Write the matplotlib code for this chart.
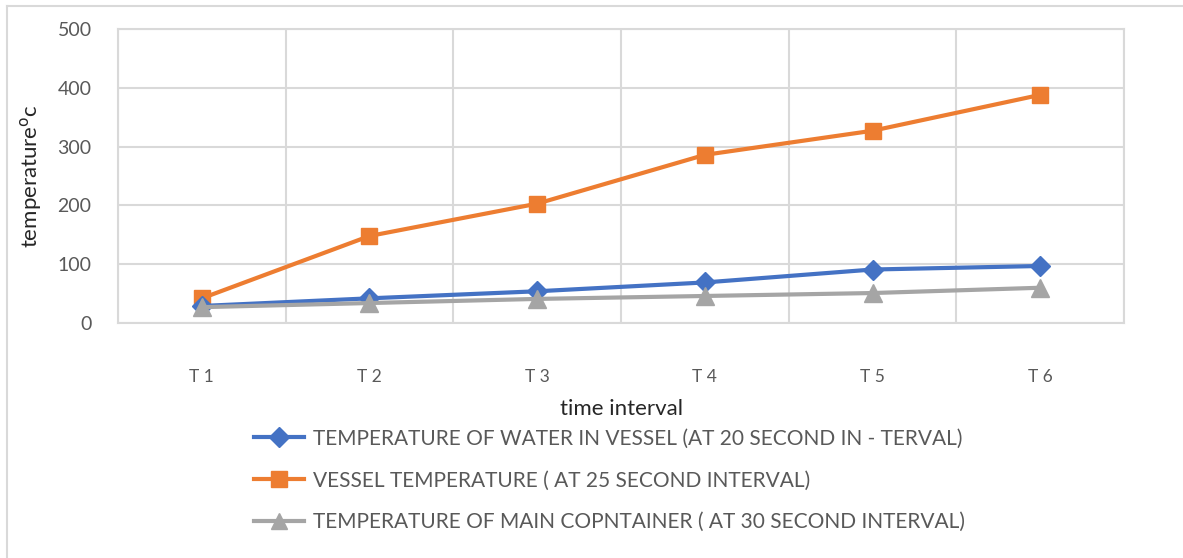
import matplotlib.pyplot as plt
from matplotlib.lines import Line2D

categories = ["T 1", "T 2", "T 3", "T 4", "T 5", "T 6"]
water_temp = [29, 42, 54, 69, 91, 97]
vessel_temp = [42, 148, 203, 286, 327, 388]
container_temp = [27, 34, 41, 46, 51, 60]

labels = [
    "TEMPERATURE OF WATER IN VESSEL (AT 20 SECOND IN - TERVAL)",
    "VESSEL TEMPERATURE ( AT 25 SECOND INTERVAL)",
    "TEMPERATURE OF MAIN COPNTAINER ( AT 30 SECOND INTERVAL)",
]

plt.rcParams["font.family"] = ["Lato", "DejaVu Sans"]
grid_col = "#d9d9d9"
text_col = "#595959"

fig = plt.figure(figsize=(11.83, 5.58), dpi=100)
ax = fig.add_axes([0.0997, 0.4211, 0.8505, 0.5269])

x = list(range(1, len(categories) + 1))
ax.plot(x, water_temp, color="#4472C4", lw=3, marker="D", ms=10, label=labels[0], zorder=4)
ax.plot(x, vessel_temp, color="#ED7D31", lw=3, marker="s", ms=12, label=labels[1], zorder=3)
ax.plot(x, container_temp, color="#A5A5A5", lw=3, marker="^", ms=13, label=labels[2], zorder=5)

ax.set_xlim(0.5, len(categories) + 0.5)
ax.set_ylim(0, 500)
ax.set_yticks(range(0, 501, 100))
ax.set_xticks(x)
ax.set_xticklabels(categories)
ax.set_xticks([i + 0.5 for i in range(0, len(categories) + 1)], minor=True)
ax.grid(True, which="minor", axis="x", color=grid_col, lw=1.5)
ax.grid(True, which="major", axis="y", color=grid_col, lw=1.5)
ax.set_axisbelow(True)
for s in ax.spines.values():
    s.set_color(grid_col)
    s.set_linewidth(1.5)
ax.tick_params(which="both", length=0)
ax.tick_params(axis="y", labelsize=14, labelcolor=text_col, pad=19)
ax.tick_params(axis="x", labelsize=12.5, labelcolor=text_col, pad=33)

ax.set_ylabel("temperature$^{\\mathrm{o}}$c", fontsize=16, color="#262626", labelpad=10)
ax.set_xlabel("time interval", fontsize=16, color="#262626", labelpad=10)

handles = [Line2D([], [], color="#4472C4", lw=3, marker="D", ms=10),
           Line2D([], [], color="#ED7D31", lw=3, marker="s", ms=12),
           Line2D([], [], color="#A5A5A5", lw=3, marker="^", ms=12)]
fig.legend(handles, labels, loc="upper left", bbox_to_anchor=(0.208, 0.247),
           frameon=False, fontsize=15, labelspacing=1.05, handlelength=2.4,
           handletextpad=0.4, labelcolor=text_col, borderaxespad=0)

# frame edges along top and left
fig.add_artist(Line2D([0.006, 1.0], [0.989, 0.989], color=grid_col, lw=1.5, transform=fig.transFigure))
fig.add_artist(Line2D([0.006, 0.006], [0.0, 0.989], color=grid_col, lw=1.5, transform=fig.transFigure))

fig.savefig("out.png", dpi=100)
